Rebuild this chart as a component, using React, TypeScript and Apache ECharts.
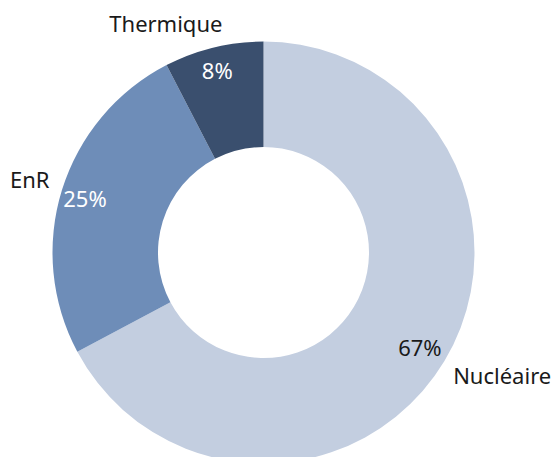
import React, { useEffect, useRef } from "react";
import * as echarts from "echarts";

const categories = ["Nucléaire", "EnR", "Thermique"];
const shares = [67.2, 25.2, 7.6];

const sliceColors = ["#C3CEE0", "#6E8DB8", "#3A4F6E"];
const pctColors = ["#1a1a1a", "#ffffff", "#ffffff"];
const nameOffsets: [number, number][] = [
  [26, -5],
  [3, 0],
  [-39, 11],
];
const pctOffsets: [number, number][] = [
  [-4, -2],
  [0, 1],
  [-2, -1],
];

const FONT = "Noto Sans";

export default function App() {
  const ref = useRef<HTMLDivElement>(null);
  useEffect(() => {
    if (!ref.current) return;
    const chart = echarts.init(ref.current, undefined, { renderer: "svg" });
    const center = [263.5, 252.5];
    const base = {
      type: "pie",
      center,
      startAngle: 90,
      clockwise: true,
      silent: true,
      avoidLabelOverlap: false,
      labelLine: { show: false },
      emphasis: { disabled: true },
    };
    chart.setOption({
      animation: false,
      backgroundColor: "#ffffff",
      series: [
        {
          ...base,
          radius: [105.5, 211],
          label: { show: false },
          itemStyle: { borderWidth: 0 },
          data: categories.map((n, i) => ({
            name: n,
            value: shares[i],
            itemStyle: { color: sliceColors[i] },
          })),
        },
        {
          ...base,
          radius: [174, 194],
          itemStyle: { color: "transparent", borderWidth: 0 },
          data: categories.map((n, i) => ({
            name: n,
            value: shares[i],
            label: {
              show: true,
              position: "inside",
              formatter: (p: any) => `${Math.round(p.value)}%`,
              color: pctColors[i],
              fontFamily: FONT,
              fontSize: 22,
              offset: pctOffsets[i],
            },
          })),
        },
        {
          ...base,
          radius: [235, 255],
          itemStyle: { color: "transparent", borderWidth: 0 },
          data: categories.map((n, i) => ({
            name: n,
            value: shares[i],
            label: {
              show: true,
              position: "inside",
              formatter: "{b}",
              color: "#1a1a1a",
              fontFamily: FONT,
              fontSize: 22,
              offset: nameOffsets[i],
            },
          })),
        },
      ],
    });
    return () => chart.dispose();
  }, []);
  return (
    <div
      ref={ref}
      style={{ position: "fixed", left: 0, top: 0, width: 556, height: 457 }}
    />
  );
}
